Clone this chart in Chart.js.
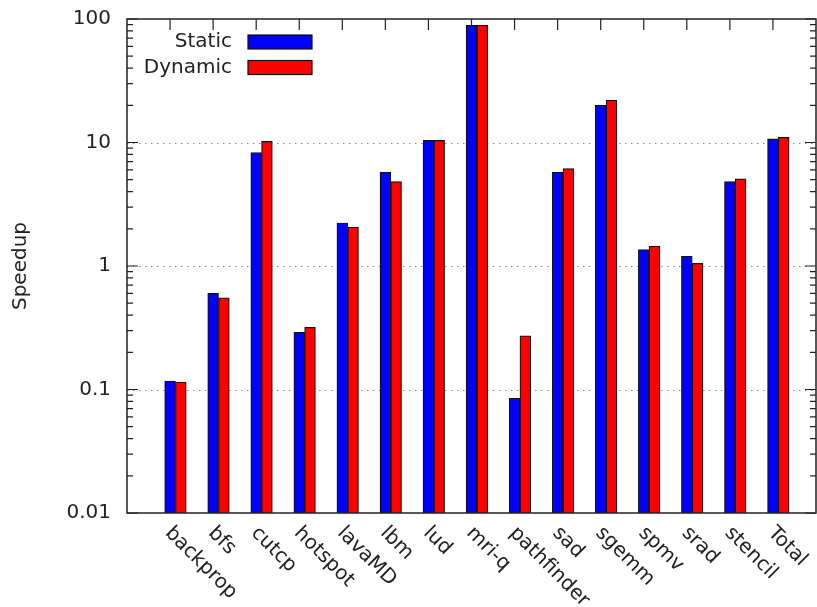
<!DOCTYPE html>
<html>
<head>
<meta charset="utf-8">
<script src="https://cdn.jsdelivr.net/npm/chart.js@4/dist/chart.umd.min.js"></script>
<style>
    body { margin: 0; background: #fff; }
    #wrap { width: 817px; height: 607px; position: relative; }
</style>
</head>
<body>
<div id="wrap"><canvas id="speedupChart"></canvas></div>
<script>
const categories = ['backprop', 'bfs', 'cutcp', 'hotspot', 'lavaMD', 'lbm', 'lud', 'mri-q',
    'pathfinder', 'sad', 'sgemm', 'spmv', 'srad', 'stencil', 'Total'];
const staticSpeedup = [0.117, 0.60, 8.3, 0.29, 2.23, 5.75, 10.4, 89, 0.085, 5.75, 20.0, 1.36, 1.20, 4.83, 10.7];
const dynamicSpeedup = [0.115, 0.553, 10.2, 0.318, 2.06, 4.83, 10.4, 89, 0.272, 6.15, 22.0, 1.45, 1.05, 5.08, 11.0];
const yTicks = [0.01, 0.1, 1, 10, 100];

const textColor = '#222';
const lineColor = '#222';
const barOffset = 0.25; // second bar sits one bar width to the right

Chart.defaults.font.family = "'DejaVu Sans', sans-serif";
Chart.defaults.font.size = 20;
Chart.defaults.color = textColor;

// gnuplot-like frame: dotted grid, inward ticks, rotated labels, key in the corner
const framePlugin = {
    id: 'frame',
    beforeDatasetsDraw(chart) {
        const { ctx, chartArea: a, scales: { y } } = chart;
        ctx.save();
        ctx.strokeStyle = '#888';
        ctx.lineWidth = 1;
        ctx.setLineDash([1.5, 4.5]);
        yTicks.slice(1, -1).forEach(v => {
            const py = Math.round(y.getPixelForValue(v)) + 0.5;
            ctx.beginPath();
            ctx.moveTo(a.left, py);
            ctx.lineTo(a.right, py);
            ctx.stroke();
        });
        ctx.restore();
    },
    afterDatasetsDraw(chart) {
        const { ctx, chartArea: a, scales: { x, y } } = chart;
        ctx.save();
        ctx.strokeStyle = lineColor;
        ctx.lineWidth = 1.5;
        ctx.strokeRect(a.left, a.top, a.right - a.left, a.bottom - a.top);

        // y ticks, major and minor, on both sides
        ctx.lineWidth = 1.2;
        ctx.beginPath();
        for (let k = 0; k < yTicks.length; k++) {
            const base = yTicks[k];
            const py = y.getPixelForValue(base);
            ctx.moveTo(a.left, py); ctx.lineTo(a.left + 11, py);
            ctx.moveTo(a.right, py); ctx.lineTo(a.right - 11, py);
            if (k === yTicks.length - 1) break;
            for (let m = 2; m <= 9; m++) {
                const pm = y.getPixelForValue(base * m);
                ctx.moveTo(a.left, pm); ctx.lineTo(a.left + 6, pm);
                ctx.moveTo(a.right, pm); ctx.lineTo(a.right - 6, pm);
            }
        }
        // x ticks on the top edge
        categories.forEach((c, i) => {
            const px = x.getPixelForValue(i);
            ctx.moveTo(px, a.top); ctx.lineTo(px, a.top + 11);
        });
        ctx.stroke();

        // rotated category labels
        ctx.fillStyle = textColor;
        ctx.font = "20px 'DejaVu Sans', sans-serif";
        ctx.textAlign = 'left';
        ctx.textBaseline = 'middle';
        categories.forEach((c, i) => {
            const px = x.getPixelForValue(i);
            ctx.save();
            ctx.translate(px - 2, a.bottom + 17);
            ctx.rotate(Math.PI / 4);
            ctx.fillText(c, 0, 0);
            ctx.restore();
        });

        // key
        chart.data.datasets.forEach((ds, k) => {
            const cy = a.top + 23 + k * 25.5;
            ctx.textAlign = 'right';
            ctx.fillStyle = textColor;
            ctx.fillText(ds.label, a.left + 105, cy);
            ctx.fillStyle = ds.backgroundColor;
            ctx.fillRect(a.left + 121, cy - 7, 64, 14);
            ctx.strokeStyle = '#111';
            ctx.lineWidth = 1.2;
            ctx.strokeRect(a.left + 121, cy - 7, 64, 14);
        });
        ctx.restore();
    }
};

const ctx = document.getElementById('speedupChart').getContext('2d');

new Chart(ctx, {
    type: 'bar',
    data: {
        datasets: [{
            label: 'Static',
            data: staticSpeedup.map((v, i) => ({ x: i, y: v })),
            backgroundColor: '#0000ff',
            borderColor: '#111',
            borderWidth: 1.2,
            borderSkipped: 'bottom'
        }, {
            label: 'Dynamic',
            data: dynamicSpeedup.map((v, i) => ({ x: i + barOffset, y: v })),
            backgroundColor: '#ff0000',
            borderColor: '#111',
            borderWidth: 1.2,
            borderSkipped: 'bottom'
        }]
    },
    options: {
        responsive: true,
        maintainAspectRatio: false,
        animation: false,
        grouped: false,
        barPercentage: 1,
        categoryPercentage: 1,
        layout: {
            padding: { top: 19, right: 1, bottom: 94, left: 0 }
        },
        scales: {
            x: {
                type: 'linear',
                min: -1,
                max: 15,
                offset: false,
                display: false
            },
            y: {
                type: 'logarithmic',
                min: 0.01,
                max: 100,
                afterBuildTicks: function (scale) {
                    scale.ticks = yTicks.map(v => ({ value: v }));
                },
                afterFit: function (scale) {
                    scale.width = 127;
                    scale.paddingTop = 0;
                    scale.paddingBottom = 0;
                },
                grid: { display: false, drawTicks: false },
                border: { display: false },
                ticks: {
                    autoSkip: false,
                    padding: 16,
                    color: textColor,
                    callback: function (value) {
                        return String(value);
                    }
                },
                title: {
                    display: true,
                    text: 'Speedup',
                    color: textColor,
                    padding: { top: 9, bottom: 0 }
                }
            }
        },
        plugins: {
            legend: { display: false },
            tooltip: { enabled: false }
        }
    },
    plugins: [framePlugin]
});
</script>
</body>
</html>
